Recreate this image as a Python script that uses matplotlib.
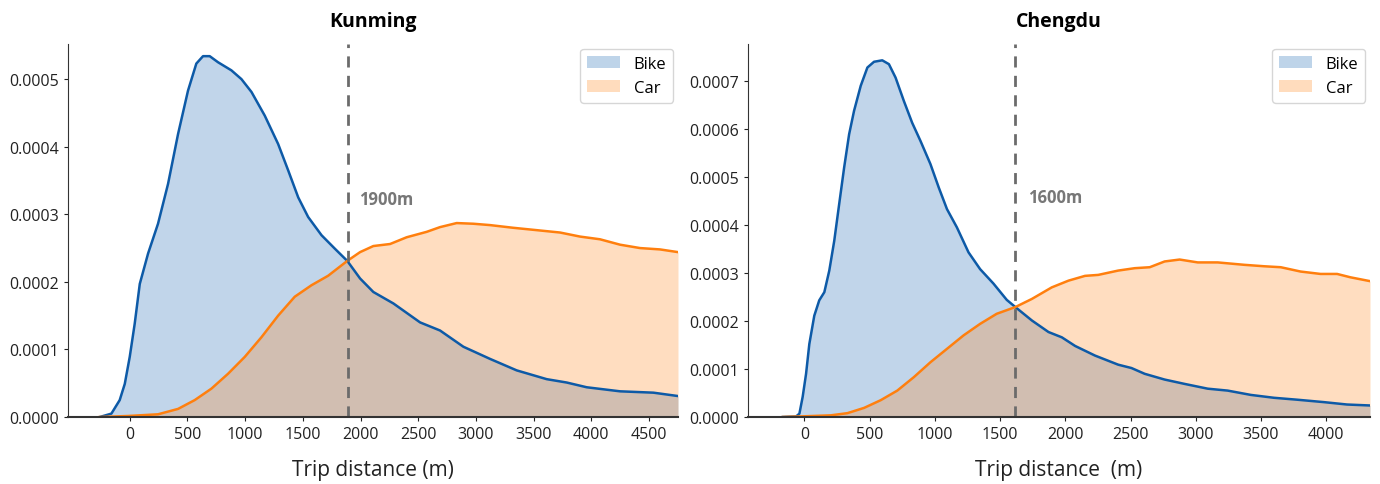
import matplotlib
matplotlib.use("Agg")
import matplotlib.pyplot as plt
from matplotlib.ticker import FormatStrFormatter, MultipleLocator
from matplotlib.patches import Patch

plt.rcParams['font.family'] = ['Open Sans', 'DejaVu Sans']

# ---- Kunming (density values in units of 1e-4) ----
km_bike_x = [-260, -159, -87, -43, 0, 43, 87, 159, 245, 332, 419, 505, 577, 635, 693, 765, 881,
             968, 1055, 1170, 1286, 1373, 1460, 1546, 1662, 1778, 1885, 1996, 2111, 2285, 2516,
             2689, 2891, 3122, 3353, 3613, 3787, 3960, 4249, 4538, 4751]
km_bike_y = [0.0, 0.05, 0.25, 0.49, 0.89, 1.38, 1.97, 2.42, 2.86, 3.45, 4.19, 4.83, 5.23, 5.34,
             5.34, 5.25, 5.13, 5.00, 4.81, 4.46, 4.04, 3.65, 3.25, 2.96, 2.69, 2.49, 2.31, 2.05,
             1.85, 1.68, 1.40, 1.28, 1.04, 0.86, 0.69, 0.56, 0.51, 0.44, 0.38, 0.36, 0.31]
km_car_x = [-260, -15, 245, 419, 563, 708, 852, 997, 1141, 1286, 1430, 1575, 1719, 1885, 1996,
            2111, 2256, 2400, 2573, 2689, 2833, 2978, 3122, 3324, 3556, 3729, 3902, 4075, 4249,
            4422, 4595, 4751]
km_car_y = [0.0, 0.015, 0.04, 0.12, 0.25, 0.42, 0.64, 0.89, 1.18, 1.50, 1.78, 1.95, 2.09, 2.31,
            2.44, 2.53, 2.56, 2.66, 2.74, 2.81, 2.87, 2.86, 2.84, 2.80, 2.76, 2.73, 2.67, 2.63,
            2.55, 2.50, 2.48, 2.44]

# ---- Chengdu ----
cd_bike_x = [-165, -64, -38, -13, 13, 38, 76, 114, 153, 191, 229, 267, 305, 343, 381, 432, 483,
             534, 597, 648, 699, 763, 826, 890, 966, 1030, 1093, 1169, 1258, 1347, 1449, 1551,
             1617, 1744, 1871, 1973, 2075, 2227, 2405, 2507, 2608, 2761, 2913, 3091, 3244, 3422,
             3600, 3778, 3981, 4159, 4335]
cd_bike_y = [0.0, 0.01, 0.07, 0.42, 0.90, 1.52, 2.11, 2.43, 2.60, 3.05, 3.67, 4.44, 5.20, 5.89,
             6.38, 6.90, 7.28, 7.40, 7.43, 7.35, 7.07, 6.58, 6.13, 5.75, 5.27, 4.78, 4.33, 3.95,
             3.43, 3.08, 2.78, 2.44, 2.29, 2.01, 1.77, 1.66, 1.48, 1.28, 1.09, 1.02, 0.90, 0.78,
             0.69, 0.59, 0.55, 0.46, 0.40, 0.36, 0.31, 0.26, 0.24]
cd_car_x = [-165, 0, 203, 330, 458, 585, 712, 839, 966, 1093, 1220, 1347, 1474, 1617, 1744,
            1896, 2024, 2151, 2252, 2405, 2532, 2647, 2761, 2876, 3015, 3168, 3372, 3524, 3651,
            3803, 3956, 4083, 4185, 4335]
cd_car_y = [0.0, 0.015, 0.035, 0.08, 0.19, 0.35, 0.55, 0.83, 1.14, 1.42, 1.70, 1.94, 2.15, 2.29,
            2.46, 2.70, 2.84, 2.94, 2.96, 3.05, 3.10, 3.12, 3.24, 3.28, 3.22, 3.22, 3.17, 3.14,
            3.12, 3.03, 2.98, 2.98, 2.91, 2.83]

titles = ["Kunming", "Chengdu"]
xlabels = ["Trip distance (m)", "Trip distance  (m)"]
thresholds = [1890, 1617]
threshold_labels = ["1900m", "1600m"]
label_y = [3.22, 4.58]
xlims = [(-535, 4751), (-432, 4335)]
ylims = [5.52, 7.77]
series_labels = ["Bike", "Car"]

bike_line = "#0d5aa7"
car_line = "#ff7f0e"
bike_fill = "#1060b0"
car_fill = "#ff7f0e"
ALPHA = 0.26

fig = plt.figure(figsize=(13.8, 4.85), dpi=100)
axes = [fig.add_axes([68/1380, 67/485, 610/1380, 373/485]),
        fig.add_axes([748/1380, 67/485, 622/1380, 373/485])]

data = [(km_bike_x, km_bike_y, km_car_x, km_car_y),
        (cd_bike_x, cd_bike_y, cd_car_x, cd_car_y)]

for i, ax in enumerate(axes):
    bx, by, cx, cy = data[i]
    by = [v * 1e-4 for v in by]
    cy = [v * 1e-4 for v in cy]
    ax.fill_between(bx, by, color=bike_fill, alpha=ALPHA, linewidth=0)
    ax.fill_between(cx, cy, color=car_fill, alpha=ALPHA, linewidth=0)
    ax.plot(bx, by, color=bike_line, lw=1.8, solid_joinstyle="round")
    ax.plot(cx, cy, color=car_line, lw=1.8, solid_joinstyle="round")
    ax.axvline(thresholds[i], color="#6b6b6b", lw=2, ls=(0, (4, 3)))
    ax.text(thresholds[i] + 100, label_y[i] * 1e-4, threshold_labels[i], color="#777777",
            fontsize=12, fontweight="bold", va="center", ha="left")
    ax.set_xlim(*xlims[i])
    ax.set_ylim(0, ylims[i] * 1e-4)
    ax.yaxis.set_major_locator(MultipleLocator(1e-4))
    ax.yaxis.set_major_formatter(FormatStrFormatter('%.4f'))
    ax.set_xticks([t for t in range(0, int(xlims[i][1]) + 1, 500)])
    ax.tick_params(labelsize=11.5, length=3, colors="#222222")
    for s in ["top", "right"]:
        ax.spines[s].set_visible(False)
    for s in ["left", "bottom"]:
        ax.spines[s].set_color("#333333")
    ax.spines["bottom"].set_linewidth(1.5)
    ax.set_title(titles[i], fontsize=14, fontweight="bold", pad=13)
    ax.set_xlabel(xlabels[i], fontsize=15, labelpad=12, color="#222222")
    handles = [Patch(facecolor=bike_fill, alpha=0.27, edgecolor="none"),
               Patch(facecolor=car_fill, alpha=0.27, edgecolor="none")]
    ax.legend(handles, series_labels, loc="upper right", fontsize=12, frameon=True,
              fancybox=True, borderaxespad=0.3)

fig.savefig("out.png", dpi=100)
